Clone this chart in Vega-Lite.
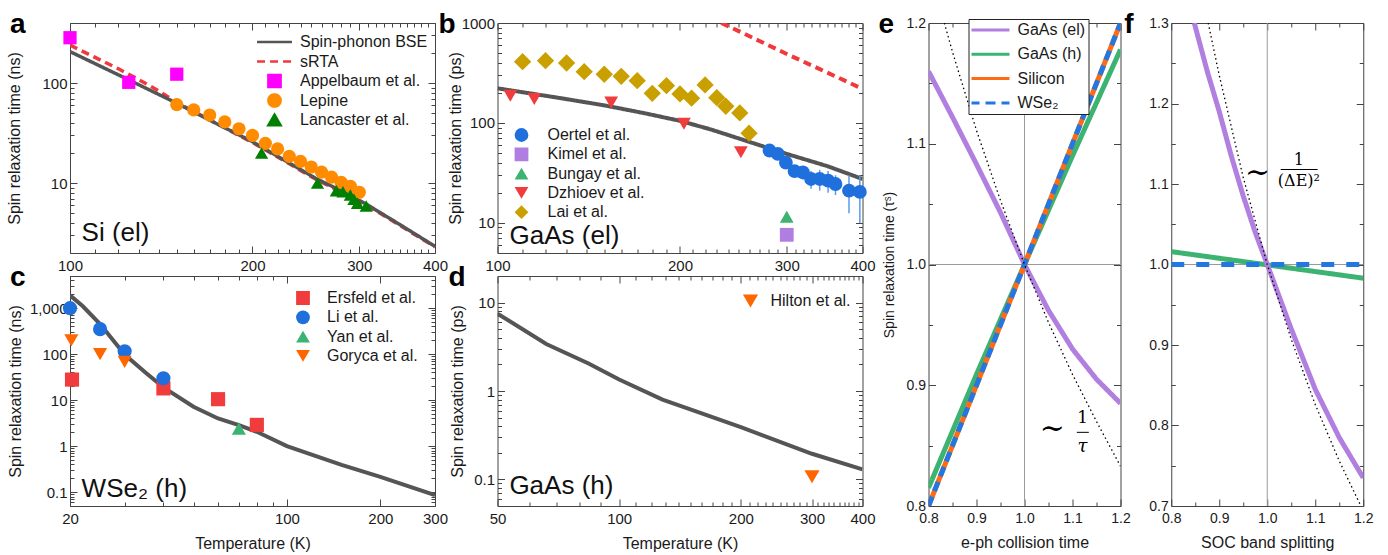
{
"$schema": "https://vega.github.io/schema/vega-lite/v6.json",
"padding": {"left": 6, "top": 10, "right": 0, "bottom": 0},
"config": {
  "font": "Liberation Sans",
  "view": {"stroke": "#444", "strokeWidth": 1},
  "axis": {"labelFont": "Liberation Sans", "titleFont": "Liberation Sans", "labelFontSize": 15, "titleFontSize": 16, "titleFontWeight": "normal", "labelColor": "#1a1a1a", "titleColor": "#1a1a1a", "domain": false, "grid": false, "tickColor": "#444", "tickWidth": 1, "labelFlush": false, "labelOverlap": false, "labelBound": false},
  "legend": {"labelFont": "Liberation Sans", "labelFontSize": 16, "labelColor": "#1a1a1a", "padding": 0},
  "title": {"font": "Liberation Sans", "fontSize": 28, "fontWeight": "bold", "color": "#000", "anchor": "start", "frame": "group", "offset": 0, "baseline": "alphabetic"}
},
"datasets": {
  "a_lines": [
    {"series": "sRTA", "T": 100, "tau": 240}, {"series": "sRTA", "T": 110, "tau": 181}, {"series": "sRTA", "T": 120, "tau": 140}, {"series": "sRTA", "T": 130, "tau": 108}, {"series": "sRTA", "T": 140, "tau": 84}, {"series": "sRTA", "T": 150, "tau": 64}, {"series": "sRTA", "T": 200, "tau": 25.5}, {"series": "sRTA", "T": 254, "tau": 11}, {"series": "sRTA", "T": 309, "tau": 6}, {"series": "sRTA", "T": 400, "tau": 2.3},
    {"series": "Spin-phonon BSE", "T": 100, "tau": 207}, {"series": "Spin-phonon BSE", "T": 125, "tau": 108}, {"series": "Spin-phonon BSE", "T": 150, "tau": 63}, {"series": "Spin-phonon BSE", "T": 175, "tau": 39}, {"series": "Spin-phonon BSE", "T": 200, "tau": 26}, {"series": "Spin-phonon BSE", "T": 225, "tau": 17.2}, {"series": "Spin-phonon BSE", "T": 254, "tau": 11.2}, {"series": "Spin-phonon BSE", "T": 280, "tau": 8.4}, {"series": "Spin-phonon BSE", "T": 309, "tau": 6.1}, {"series": "Spin-phonon BSE", "T": 350, "tau": 3.85}, {"series": "Spin-phonon BSE", "T": 400, "tau": 2.33}
  ],
  "a_points": [
    {"series": "Appelbaum et al.", "T": 100, "tau": 285}, {"series": "Appelbaum et al.", "T": 125, "tau": 102}, {"series": "Appelbaum et al.", "T": 150, "tau": 123},
    {"series": "Lepine", "T": 150, "tau": 61}, {"series": "Lepine", "T": 160, "tau": 54}, {"series": "Lepine", "T": 170, "tau": 48}, {"series": "Lepine", "T": 180, "tau": 41}, {"series": "Lepine", "T": 190, "tau": 35}, {"series": "Lepine", "T": 200, "tau": 30}, {"series": "Lepine", "T": 210, "tau": 25}, {"series": "Lepine", "T": 220, "tau": 22}, {"series": "Lepine", "T": 230, "tau": 18.5}, {"series": "Lepine", "T": 240, "tau": 16.5}, {"series": "Lepine", "T": 250, "tau": 14.5}, {"series": "Lepine", "T": 260, "tau": 12.9}, {"series": "Lepine", "T": 270, "tau": 11.5}, {"series": "Lepine", "T": 280, "tau": 10.2}, {"series": "Lepine", "T": 290, "tau": 9.3}, {"series": "Lepine", "T": 300, "tau": 8.1},
    {"series": "Lancaster et al.", "T": 207, "tau": 20}, {"series": "Lancaster et al.", "T": 256, "tau": 10}, {"series": "Lancaster et al.", "T": 275, "tau": 8.4}, {"series": "Lancaster et al.", "T": 282, "tau": 8.2}, {"series": "Lancaster et al.", "T": 290, "tau": 7.6}, {"series": "Lancaster et al.", "T": 294, "tau": 6.9}, {"series": "Lancaster et al.", "T": 298, "tau": 6.3}, {"series": "Lancaster et al.", "T": 308, "tau": 5.9}
  ],
  "b_lines": [
    {"series": "sRTA", "T": 234, "tau": 1000}, {"series": "sRTA", "T": 250, "tau": 830}, {"series": "sRTA", "T": 300, "tau": 490}, {"series": "sRTA", "T": 350, "tau": 319}, {"series": "sRTA", "T": 400, "tau": 219},
    {"series": "Spin-phonon BSE", "T": 100, "tau": 222}, {"series": "Spin-phonon BSE", "T": 125, "tau": 180}, {"series": "Spin-phonon BSE", "T": 150, "tau": 150}, {"series": "Spin-phonon BSE", "T": 175, "tau": 125}, {"series": "Spin-phonon BSE", "T": 200, "tau": 105}, {"series": "Spin-phonon BSE", "T": 225, "tau": 86}, {"series": "Spin-phonon BSE", "T": 250, "tau": 70}, {"series": "Spin-phonon BSE", "T": 275, "tau": 58}, {"series": "Spin-phonon BSE", "T": 300, "tau": 49}, {"series": "Spin-phonon BSE", "T": 350, "tau": 37}, {"series": "Spin-phonon BSE", "T": 400, "tau": 27.5}
  ],
  "b_err": [
    {"T": 281, "lo": 50, "hi": 56}, {"T": 290, "lo": 46, "hi": 52}, {"T": 299, "lo": 36, "hi": 44}, {"T": 309, "lo": 29, "hi": 37}, {"T": 319, "lo": 27, "hi": 37}, {"T": 329, "lo": 22, "hi": 33}, {"T": 340, "lo": 21, "hi": 34}, {"T": 351, "lo": 20, "hi": 33}, {"T": 361, "lo": 19, "hi": 30}, {"T": 380, "lo": 12.5, "hi": 30}, {"T": 396, "lo": 10, "hi": 30}
  ],
  "b_points": [
    {"series": "Oertel et al.", "T": 281, "tau": 53}, {"series": "Oertel et al.", "T": 290, "tau": 49}, {"series": "Oertel et al.", "T": 299, "tau": 40}, {"series": "Oertel et al.", "T": 309, "tau": 33}, {"series": "Oertel et al.", "T": 319, "tau": 32}, {"series": "Oertel et al.", "T": 329, "tau": 27.5}, {"series": "Oertel et al.", "T": 340, "tau": 27.5}, {"series": "Oertel et al.", "T": 351, "tau": 26.5}, {"series": "Oertel et al.", "T": 361, "tau": 24.5}, {"series": "Oertel et al.", "T": 380, "tau": 21}, {"series": "Oertel et al.", "T": 396, "tau": 20.4},
    {"series": "Kimel et al.", "T": 300, "tau": 7.6},
    {"series": "Bungay et al.", "T": 300, "tau": 11.5},
    {"series": "Dzhioev et al.", "T": 105, "tau": 187}, {"series": "Dzhioev et al.", "T": 115, "tau": 174}, {"series": "Dzhioev et al.", "T": 154, "tau": 160}, {"series": "Dzhioev et al.", "T": 203, "tau": 98}, {"series": "Dzhioev et al.", "T": 252, "tau": 51},
    {"series": "Lai et al.", "T": 110, "tau": 410}, {"series": "Lai et al.", "T": 120, "tau": 420}, {"series": "Lai et al.", "T": 130, "tau": 398}, {"series": "Lai et al.", "T": 139, "tau": 326}, {"series": "Lai et al.", "T": 150, "tau": 307}, {"series": "Lai et al.", "T": 160, "tau": 293}, {"series": "Lai et al.", "T": 170, "tau": 265}, {"series": "Lai et al.", "T": 180, "tau": 198}, {"series": "Lai et al.", "T": 190, "tau": 236}, {"series": "Lai et al.", "T": 200, "tau": 195}, {"series": "Lai et al.", "T": 209, "tau": 177}, {"series": "Lai et al.", "T": 220, "tau": 240}, {"series": "Lai et al.", "T": 230, "tau": 179}, {"series": "Lai et al.", "T": 238, "tau": 147}, {"series": "Lai et al.", "T": 251, "tau": 126}, {"series": "Lai et al.", "T": 260, "tau": 79}
  ],
  "c_line": [
    {"T": 20, "tau": 1900}, {"T": 22, "tau": 1100}, {"T": 25, "tau": 450}, {"T": 30, "tau": 98}, {"T": 35, "tau": 40}, {"T": 40, "tau": 19}, {"T": 50, "tau": 7.2}, {"T": 60, "tau": 4.0}, {"T": 70, "tau": 2.86}, {"T": 80, "tau": 2.05}, {"T": 100, "tau": 1.0}, {"T": 150, "tau": 0.39}, {"T": 200, "tau": 0.215}, {"T": 300, "tau": 0.086}
  ],
  "c_points": [
    {"series": "Ersfeld et al.", "T": 20.3, "tau": 28}, {"series": "Ersfeld et al.", "T": 40, "tau": 18}, {"series": "Ersfeld et al.", "T": 60, "tau": 10.5}, {"series": "Ersfeld et al.", "T": 80, "tau": 2.9},
    {"series": "Li et al.", "T": 20, "tau": 1000}, {"series": "Li et al.", "T": 25, "tau": 350}, {"series": "Li et al.", "T": 30, "tau": 115}, {"series": "Li et al.", "T": 40, "tau": 30},
    {"series": "Yan et al.", "T": 70, "tau": 2.4},
    {"series": "Goryca et al.", "T": 20.2, "tau": 200}, {"series": "Goryca et al.", "T": 25, "tau": 100}, {"series": "Goryca et al.", "T": 30, "tau": 68}
  ],
  "d_line": [
    {"T": 50, "tau": 7.5}, {"T": 66, "tau": 3.4}, {"T": 84, "tau": 2.05}, {"T": 100, "tau": 1.35}, {"T": 128, "tau": 0.8}, {"T": 150, "tau": 0.62}, {"T": 200, "tau": 0.39}, {"T": 300, "tau": 0.195}, {"T": 400, "tau": 0.13}
  ],
  "d_points": [
    {"series": "Hilton et al.", "T": 300, "tau": 0.107}
  ],
  "e_lines": [
    {"series": "GaAs (el)", "x": 0.8, "y": 1.16}, {"series": "GaAs (el)", "x": 0.85, "y": 1.122}, {"series": "GaAs (el)", "x": 0.9, "y": 1.083}, {"series": "GaAs (el)", "x": 0.95, "y": 1.043}, {"series": "GaAs (el)", "x": 1.0, "y": 1.0}, {"series": "GaAs (el)", "x": 1.05, "y": 0.962}, {"series": "GaAs (el)", "x": 1.1, "y": 0.93}, {"series": "GaAs (el)", "x": 1.15, "y": 0.905}, {"series": "GaAs (el)", "x": 1.2, "y": 0.885},
    {"series": "GaAs (h)", "x": 0.8, "y": 0.815}, {"series": "GaAs (h)", "x": 0.9, "y": 0.909}, {"series": "GaAs (h)", "x": 1.0, "y": 1.0}, {"series": "GaAs (h)", "x": 1.1, "y": 1.09}, {"series": "GaAs (h)", "x": 1.2, "y": 1.178},
    {"series": "Silicon", "x": 0.8, "y": 0.8}, {"series": "Silicon", "x": 0.9, "y": 0.9}, {"series": "Silicon", "x": 1.0, "y": 1.0}, {"series": "Silicon", "x": 1.1, "y": 1.1}, {"series": "Silicon", "x": 1.2, "y": 1.2},
    {"series": "WSe₂", "x": 0.8, "y": 0.8}, {"series": "WSe₂", "x": 0.9, "y": 0.9}, {"series": "WSe₂", "x": 1.0, "y": 1.0}, {"series": "WSe₂", "x": 1.1, "y": 1.1}, {"series": "WSe₂", "x": 1.2, "y": 1.2}
  ],
  "e_dot": [
    {"x": 0.833, "y": 1.2}, {"x": 0.85, "y": 1.176}, {"x": 0.9, "y": 1.111}, {"x": 0.95, "y": 1.053}, {"x": 1.0, "y": 1.0}, {"x": 1.05, "y": 0.952}, {"x": 1.1, "y": 0.909}, {"x": 1.15, "y": 0.87}, {"x": 1.2, "y": 0.833}
  ],
  "f_lines": [
    {"series": "GaAs (h)", "x": 0.8, "y": 1.016}, {"series": "GaAs (h)", "x": 1.2, "y": 0.983},
    {"series": "WSe₂", "x": 0.8, "y": 1.0}, {"series": "WSe₂", "x": 1.2, "y": 1.0},
    {"series": "GaAs (el)", "x": 0.848, "y": 1.3}, {"series": "GaAs (el)", "x": 0.875, "y": 1.24}, {"series": "GaAs (el)", "x": 0.9, "y": 1.19}, {"series": "GaAs (el)", "x": 0.925, "y": 1.135}, {"series": "GaAs (el)", "x": 0.95, "y": 1.085}, {"series": "GaAs (el)", "x": 0.975, "y": 1.04}, {"series": "GaAs (el)", "x": 1.0, "y": 1.0}, {"series": "GaAs (el)", "x": 1.05, "y": 0.92}, {"series": "GaAs (el)", "x": 1.1, "y": 0.845}, {"series": "GaAs (el)", "x": 1.15, "y": 0.785}, {"series": "GaAs (el)", "x": 1.2, "y": 0.735}
  ],
  "f_dot": [
    {"x": 0.877, "y": 1.3}, {"x": 0.9, "y": 1.235}, {"x": 0.95, "y": 1.108}, {"x": 1.0, "y": 1.0}, {"x": 1.05, "y": 0.907}, {"x": 1.1, "y": 0.826}, {"x": 1.15, "y": 0.756}, {"x": 1.195, "y": 0.7}
  ]
},
"spacing": 1.5,
"resolve": {"scale": {"fill": "independent", "shape": "independent", "stroke": "independent", "strokeDash": "independent"}},
"hconcat": [
{
 "spacing": -11.5,
 "resolve": {"scale": {"fill": "independent", "shape": "independent", "stroke": "independent", "strokeDash": "independent"}},
 "hconcat": [
 {
  "spacing": 23,
  "bounds": "flush",
  "resolve": {"scale": {"fill": "independent", "shape": "independent", "stroke": "independent", "strokeDash": "independent"}},
  "vconcat": [
  {
   "width": 365, "height": 230,
   "title": {"text": "a", "dx": -60, "dy": 27},
   "resolve": {"axis": {"x": "independent", "y": "independent"}},
   "layer": [
    {"data": {"name": "a_lines"},
     "mark": {"type": "line", "strokeWidth": 3.5, "clip": true},
     "encoding": {
       "x": {"field": "T", "type": "quantitative", "scale": {"type": "log", "domain": [100, 400], "nice": false},
             "axis": {"orient": "bottom", "values": [100,110,120,130,140,150,160,170,180,190,200,210,220,230,240,250,260,270,280,290,300,310,320,330,340,350,360,370,380,390,400], "tickSize": {"condition": {"test": "datum.value % 100 === 0", "value": -7}, "value": -4}, "labelExpr": "datum.value % 100 === 0 ? format(datum.value, 'd') : ''", "title": null, "labelPadding": 12}},
       "y": {"field": "tau", "type": "quantitative", "scale": {"type": "log", "domain": [2, 400], "nice": false},
             "axis": {"orient": "left", "values": [2,3,4,5,6,7,8,9,10,20,30,40,50,60,70,80,90,100,200,300,400], "tickSize": {"condition": {"test": "datum.value === 10 || datum.value === 100", "value": -7}, "value": -4}, "labelExpr": "datum.value === 10 || datum.value === 100 ? format(datum.value, 'd') : ''", "title": "Spin relaxation time (ns)", "labelPadding": 10, "titlePadding": 19}},
       "stroke": {"field": "series", "type": "nominal", "scale": {"domain": ["Spin-phonon BSE", "sRTA", "Appelbaum et al.", "Lepine", "Lancaster et al."], "range": ["#555555", "#f0393c", "#ff00ff", "#ff8c00", "#008000"]},
                  "legend": {"title": null, "orient": "none", "legendX": 186.5, "legendY": 11, "labelOffset": 17.5, "symbolOffset": 10, "rowPadding": 3.5, "clipHeight": 16, "symbolSize": 150, "symbolStrokeWidth": 2.5}},
       "strokeDash": {"field": "series", "type": "nominal", "scale": {"domain": ["Spin-phonon BSE", "sRTA", "Appelbaum et al.", "Lepine", "Lancaster et al."], "range": [[1, 0], [8, 5], [1, 0], [1, 0], [1, 0]]},
                  "legend": {"title": null, "orient": "none", "legendX": 186.5, "legendY": 11, "labelOffset": 17.5, "symbolOffset": 10, "rowPadding": 3.5, "clipHeight": 16, "symbolSize": 150, "symbolStrokeWidth": 2.5}}
     }},
    {"data": {"name": "a_points"},
     "mark": {"type": "point", "filled": true, "opacity": 1, "size": 175},
     "encoding": {
       "x": {"field": "T", "type": "quantitative", "axis": null},
       "y": {"field": "tau", "type": "quantitative", "axis": null},
       "fill": {"field": "series", "type": "nominal", "scale": {"domain": ["Spin-phonon BSE", "sRTA", "Appelbaum et al.", "Lepine", "Lancaster et al."], "range": ["#555555", "#f0393c", "#ff00ff", "#ff8c00", "#008000"]},
                "legend": {"title": null, "orient": "none", "legendX": 186.5, "legendY": 11, "labelOffset": 17.5, "symbolOffset": 10, "rowPadding": 3.5, "clipHeight": 16, "symbolSize": 150, "symbolStrokeWidth": 2.5}},
       "shape": {"field": "series", "type": "nominal", "scale": {"domain": ["Spin-phonon BSE", "sRTA", "Appelbaum et al.", "Lepine", "Lancaster et al."], "range": ["M-2.85,0H2.85", "M-2.85,0H2.85", "square", "circle", "triangle-up"]},
                "legend": {"title": null, "orient": "none", "legendX": 186.5, "legendY": 11, "labelOffset": 17.5, "symbolOffset": 10, "rowPadding": 3.5, "clipHeight": 16, "symbolSize": 150, "symbolStrokeWidth": 2.5}}
     }},
    {"data": {"values": [{}]},
     "mark": {"type": "text", "text": "Si (el)", "align": "left", "baseline": "alphabetic", "fontSize": 26, "color": "#111"},
     "encoding": {
       "x": {"datum": 104.5, "type": "quantitative", "axis": {"orient": "top", "values": [100,110,120,130,140,150,160,170,180,190,200,210,220,230,240,250,260,270,280,290,300,310,320,330,340,350,360,370,380,390,400], "tickSize": {"condition": {"test": "datum.value % 100 === 0", "value": -7}, "value": -4}, "labels": false, "title": null}},
       "y": {"datum": 2.63, "type": "quantitative", "axis": {"orient": "right", "values": [2,3,4,5,6,7,8,9,10,20,30,40,50,60,70,80,90,100,200,300,400], "tickSize": {"condition": {"test": "datum.value === 10 || datum.value === 100", "value": -7}, "value": -4}, "labels": false, "title": null}}
     }}
   ]
  },
  {
   "width": 365, "height": 230,
   "title": {"text": "c", "dx": -60, "dy": 27},
   "resolve": {"axis": {"x": "independent", "y": "independent"}},
   "layer": [
    {"data": {"name": "c_line"},
     "mark": {"type": "line", "strokeWidth": 4, "color": "#555555", "clip": true},
     "encoding": {
       "x": {"field": "T", "type": "quantitative", "scale": {"type": "log", "domain": [20, 300], "nice": false},
             "axis": {"orient": "bottom", "values": [20,30,40,50,60,70,80,90,100,200,300], "tickSize": {"condition": {"test": "indexof([20,100,200,300], datum.value) >= 0", "value": -7}, "value": -4}, "labelExpr": "indexof([20,100,200,300], datum.value) >= 0 ? format(datum.value, 'd') : ''", "title": "Temperature (K)", "labelPadding": 12, "titlePadding": 6}},
       "y": {"field": "tau", "type": "quantitative", "scale": {"type": "log", "domain": [0.05, 5000], "nice": false},
             "axis": {"orient": "left", "values": [0.05,0.06,0.07,0.08,0.09,0.1,0.2,0.3,0.4,0.5,0.6,0.7,0.8,0.9,1,2,3,4,5,6,7,8,9,10,20,30,40,50,60,70,80,90,100,200,300,400,500,600,700,800,900,1000,2000,3000,4000,5000], "tickSize": {"condition": {"test": "indexof([0.1,1,10,100,1000], datum.value) >= 0", "value": -7}, "value": -4}, "labelExpr": "indexof([0.1,1,10,100,1000], datum.value) >= 0 ? format(datum.value, ',') : ''", "title": "Spin relaxation time (ns)", "labelPadding": 10, "titlePadding": 6}}
     }},
    {"data": {"name": "c_points"},
     "mark": {"type": "point", "filled": true, "opacity": 1, "size": 200},
     "encoding": {
       "x": {"field": "T", "type": "quantitative", "axis": null},
       "y": {"field": "tau", "type": "quantitative", "axis": null},
       "fill": {"field": "series", "type": "nominal", "scale": {"domain": ["Ersfeld et al.", "Li et al.", "Yan et al.", "Goryca et al."], "range": ["#f03c3c", "#1f6fdc", "#3cb371", "#ff6600"]},
                "legend": {"title": null, "orient": "none", "legendX": 225, "legendY": 14, "labelOffset": 16, "rowPadding": 3.3, "clipHeight": 16, "symbolSize": 190, "symbolStrokeWidth": 0}},
       "shape": {"field": "series", "type": "nominal", "scale": {"domain": ["Ersfeld et al.", "Li et al.", "Yan et al.", "Goryca et al."], "range": ["square", "circle", "triangle-up", "triangle-down"]},
                "legend": {"title": null, "orient": "none", "legendX": 225, "legendY": 14, "labelOffset": 16, "rowPadding": 3.3, "clipHeight": 16, "symbolSize": 190, "symbolStrokeWidth": 0}}
     }},
    {"data": {"values": [{}]},
     "mark": {"type": "text", "text": "WSe₂ (h)", "align": "left", "baseline": "alphabetic", "fontSize": 26, "color": "#111"},
     "encoding": {
       "x": {"datum": 21.8, "type": "quantitative", "axis": {"orient": "top", "values": [20,30,40,50,60,70,80,90,100,200,300], "tickSize": {"condition": {"test": "indexof([20,100,200,300], datum.value) >= 0", "value": -7}, "value": -4}, "labels": false, "title": null}},
       "y": {"datum": 0.079, "type": "quantitative", "axis": {"orient": "right", "values": [0.05,0.06,0.07,0.08,0.09,0.1,0.2,0.3,0.4,0.5,0.6,0.7,0.8,0.9,1,2,3,4,5,6,7,8,9,10,20,30,40,50,60,70,80,90,100,200,300,400,500,600,700,800,900,1000,2000,3000,4000,5000], "tickSize": {"condition": {"test": "indexof([0.1,1,10,100,1000], datum.value) >= 0", "value": -7}, "value": -4}, "labels": false, "title": null}}
     }}
   ]
  }
  ]
 },
 {
  "spacing": 23,
  "bounds": "flush",
  "resolve": {"scale": {"fill": "independent", "shape": "independent", "stroke": "independent", "strokeDash": "independent"}},
  "vconcat": [
  {
   "width": 365, "height": 230,
   "title": {"text": "b", "dx": -59, "dy": 27},
   "resolve": {"axis": {"x": "independent", "y": "independent"}},
   "layer": [
    {"data": {"name": "b_lines"},
     "mark": {"type": "line", "strokeWidth": 4, "clip": true},
     "encoding": {
       "x": {"field": "T", "type": "quantitative", "scale": {"type": "log", "domain": [100, 400], "nice": false},
             "axis": {"orient": "bottom", "values": [100,110,120,130,140,150,160,170,180,190,200,210,220,230,240,250,260,270,280,290,300,310,320,330,340,350,360,370,380,390,400], "tickSize": {"condition": {"test": "datum.value % 100 === 0", "value": -7}, "value": -4}, "labelExpr": "datum.value % 100 === 0 ? format(datum.value, 'd') : ''", "title": null, "labelPadding": 12}},
       "y": {"field": "tau", "type": "quantitative", "scale": {"type": "log", "domain": [5, 1000], "nice": false},
             "axis": {"orient": "left", "values": [5,6,7,8,9,10,20,30,40,50,60,70,80,90,100,200,300,400,500,600,700,800,900,1000], "tickSize": {"condition": {"test": "indexof([10,100,1000], datum.value) >= 0", "value": -7}, "value": -4}, "labelExpr": "indexof([10,100,1000], datum.value) >= 0 ? format(datum.value, 'd') : ''", "title": "Spin relaxation time (ps)", "labelPadding": 10, "titlePadding": -2}},
       "stroke": {"field": "series", "type": "nominal", "scale": {"domain": ["Spin-phonon BSE", "sRTA"], "range": ["#555555", "#f0393c"]}, "legend": null},
       "strokeDash": {"field": "series", "type": "nominal", "scale": {"domain": ["Spin-phonon BSE", "sRTA"], "range": [[1, 0], [8, 5]]}, "legend": null}
     }},
    {"data": {"name": "b_err"},
     "mark": {"type": "rule", "color": "#5b9be6", "strokeWidth": 1.5},
     "encoding": {
       "x": {"field": "T", "type": "quantitative", "axis": null},
       "y": {"field": "lo", "type": "quantitative", "axis": null},
       "y2": {"field": "hi"}
     }},
    {"data": {"name": "b_points"},
     "transform": [{"filter": "datum.series !== 'Lai et al.'"}],
     "mark": {"type": "point", "filled": true, "opacity": 1, "size": 190},
     "encoding": {
       "x": {"field": "T", "type": "quantitative", "axis": null},
       "y": {"field": "tau", "type": "quantitative", "axis": null},
       "fill": {"field": "series", "type": "nominal", "scale": {"domain": ["Oertel et al.", "Kimel et al.", "Bungay et al.", "Dzhioev et al.", "Lai et al."], "range": ["#1f6fdc", "#b07ee0", "#3cb371", "#f03c3c", "#c9a000"]},
                "legend": {"title": null, "orient": "none", "legendX": 16, "legendY": 104, "labelOffset": 18, "rowPadding": 3.3, "clipHeight": 16, "symbolSize": 190, "symbolStrokeWidth": 0}},
       "shape": {"field": "series", "type": "nominal", "scale": {"domain": ["Oertel et al.", "Kimel et al.", "Bungay et al.", "Dzhioev et al.", "Lai et al."], "range": ["circle", "square", "triangle-up", "triangle-down", "diamond"]},
                "legend": {"title": null, "orient": "none", "legendX": 16, "legendY": 104, "labelOffset": 18, "rowPadding": 3.3, "clipHeight": 16, "symbolSize": 190, "symbolStrokeWidth": 0}}
     }},
    {"data": {"name": "b_points"},
     "transform": [{"filter": "datum.series === 'Lai et al.'"}],
     "mark": {"type": "point", "filled": true, "opacity": 1, "size": 300},
     "encoding": {
       "x": {"field": "T", "type": "quantitative", "axis": null},
       "y": {"field": "tau", "type": "quantitative", "axis": null},
       "fill": {"field": "series", "type": "nominal", "legend": {"title": null, "orient": "none", "legendX": 16, "legendY": 104, "labelOffset": 18, "rowPadding": 3.3, "clipHeight": 16, "symbolSize": 190, "symbolStrokeWidth": 0}},
       "shape": {"field": "series", "type": "nominal", "legend": {"title": null, "orient": "none", "legendX": 16, "legendY": 104, "labelOffset": 18, "rowPadding": 3.3, "clipHeight": 16, "symbolSize": 190, "symbolStrokeWidth": 0}}
     }},
    {"data": {"values": [{}]},
     "mark": {"type": "text", "text": "GaAs (el)", "align": "left", "baseline": "alphabetic", "fontSize": 26, "color": "#111"},
     "encoding": {
       "x": {"datum": 104.7, "type": "quantitative", "axis": {"orient": "top", "values": [100,110,120,130,140,150,160,170,180,190,200,210,220,230,240,250,260,270,280,290,300,310,320,330,340,350,360,370,380,390,400], "tickSize": {"condition": {"test": "datum.value % 100 === 0", "value": -7}, "value": -4}, "labels": false, "title": null}},
       "y": {"datum": 6.2, "type": "quantitative", "axis": {"orient": "right", "values": [5,6,7,8,9,10,20,30,40,50,60,70,80,90,100,200,300,400,500,600,700,800,900,1000], "tickSize": {"condition": {"test": "indexof([10,100,1000], datum.value) >= 0", "value": -7}, "value": -4}, "labels": false, "title": null}}
     }}
   ]
  },
  {
   "width": 365, "height": 230,
   "title": {"text": "d", "dx": -49, "dy": 27},
   "resolve": {"axis": {"x": "independent", "y": "independent"}},
   "layer": [
    {"data": {"name": "d_line"},
     "mark": {"type": "line", "strokeWidth": 4, "color": "#555555", "clip": true},
     "encoding": {
       "x": {"field": "T", "type": "quantitative", "scale": {"type": "log", "domain": [50, 400], "nice": false},
             "axis": {"orient": "bottom", "values": [50,60,70,80,90,100,110,120,130,140,150,160,170,180,190,200,210,220,230,240,250,260,270,280,290,300,310,320,330,340,350,360,370,380,390,400], "tickSize": {"condition": {"test": "indexof([50,100,200,300,400], datum.value) >= 0", "value": -7}, "value": -4}, "labelExpr": "indexof([50,100,200,300,400], datum.value) >= 0 ? format(datum.value, 'd') : ''", "title": "Temperature (K)", "labelPadding": 12, "titlePadding": 6}},
       "y": {"field": "tau", "type": "quantitative", "scale": {"type": "log", "domain": [0.05, 20], "nice": false},
             "axis": {"orient": "left", "values": [0.05,0.06,0.07,0.08,0.09,0.1,0.2,0.3,0.4,0.5,0.6,0.7,0.8,0.9,1,2,3,4,5,6,7,8,9,10,20], "tickSize": {"condition": {"test": "indexof([0.1,1,10], datum.value) >= 0", "value": -7}, "value": -4}, "labelExpr": "indexof([0.1,1,10], datum.value) >= 0 ? format(datum.value, ',') : ''", "title": "Spin relaxation time (ps)", "labelPadding": 10, "titlePadding": 8}}
     }},
    {"data": {"name": "d_points"},
     "mark": {"type": "point", "filled": true, "opacity": 1, "size": 230},
     "encoding": {
       "x": {"field": "T", "type": "quantitative", "axis": null},
       "y": {"field": "tau", "type": "quantitative", "axis": null},
       "fill": {"field": "series", "type": "nominal", "scale": {"domain": ["Hilton et al."], "range": ["#ff6600"]},
                "legend": {"title": null, "orient": "none", "legendX": 245, "legendY": 17, "labelOffset": 12, "clipHeight": 16, "symbolSize": 230, "symbolStrokeWidth": 0}},
       "shape": {"field": "series", "type": "nominal", "scale": {"domain": ["Hilton et al."], "range": ["triangle-down"]},
                "legend": {"title": null, "orient": "none", "legendX": 245, "legendY": 17, "labelOffset": 12, "clipHeight": 16, "symbolSize": 230, "symbolStrokeWidth": 0}}
     }},
    {"data": {"values": [{}]},
     "mark": {"type": "text", "text": "GaAs (h)", "align": "left", "baseline": "alphabetic", "fontSize": 26, "color": "#111"},
     "encoding": {
       "x": {"datum": 53.5, "type": "quantitative", "axis": {"orient": "top", "values": [50,60,70,80,90,100,110,120,130,140,150,160,170,180,190,200,210,220,230,240,250,260,270,280,290,300,310,320,330,340,350,360,370,380,390,400], "tickSize": {"condition": {"test": "indexof([50,100,200,300,400], datum.value) >= 0", "value": -7}, "value": -4}, "labels": false, "title": null}},
       "y": {"datum": 0.069, "type": "quantitative", "axis": {"orient": "right", "values": [0.05,0.06,0.07,0.08,0.09,0.1,0.2,0.3,0.4,0.5,0.6,0.7,0.8,0.9,1,2,3,4,5,6,7,8,9,10,20], "tickSize": {"condition": {"test": "indexof([0.1,1,10], datum.value) >= 0", "value": -7}, "value": -4}, "labels": false, "title": null}}
     }}
   ]
  }
  ]
 }
 ]
},
{
 "spacing": -8.25,
 "resolve": {"scale": {"fill": "independent", "shape": "independent", "stroke": "independent", "strokeDash": "independent"}},
 "hconcat": [
  {
   "width": 192, "height": 483,
   "title": {"text": "e", "dx": -50, "dy": 27},
   "resolve": {"axis": {"x": "independent", "y": "independent"}},
   "layer": [
    {"data": {"values": [{}]},
     "mark": {"type": "rule", "color": "#9a9a9a", "strokeWidth": 1},
     "encoding": {"x": {"datum": 1, "type": "quantitative", "scale": {"domain": [0.8, 1.2], "nice": false, "zero": false}, "axis": null}}},
    {"data": {"values": [{}]},
     "mark": {"type": "rule", "color": "#9a9a9a", "strokeWidth": 1},
     "encoding": {"y": {"datum": 1, "type": "quantitative", "scale": {"domain": [0.8, 1.2], "nice": false, "zero": false}, "axis": null}}},
    {"data": {"name": "e_lines"},
     "mark": {"type": "line", "strokeWidth": 5, "clip": true},
     "encoding": {
       "x": {"field": "x", "type": "quantitative", "axis": {"orient": "top", "values": [0.8,0.85,0.9,0.95,1,1.05,1.1,1.15,1.2], "tickSize": {"condition": {"test": "abs(datum.value*10-round(datum.value*10)) < 0.001", "value": -7}, "value": -4}, "labels": false, "title": null}},
       "y": {"field": "y", "type": "quantitative", "axis": {"orient": "right", "values": [0.8,0.85,0.9,0.95,1,1.05,1.1,1.15,1.2], "tickSize": {"condition": {"test": "abs(datum.value*10-round(datum.value*10)) < 0.001", "value": -7}, "value": -4}, "labels": false, "title": null}},
       "stroke": {"field": "series", "type": "nominal", "scale": {"domain": ["GaAs (el)", "GaAs (h)", "Silicon", "WSe₂"], "range": ["#b07fdf", "#3cb371", "#ff6a14", "#2277e0"]},
                  "legend": {"title": null, "orient": "none", "legendX": 40, "legendY": -4, "padding": 3, "strokeColor": "#222", "fillColor": "#ffffff", "symbolType": "M-3.33,0H3.33", "symbolSize": 144, "symbolStrokeWidth": 3, "symbolOffset": 10, "labelOffset": 20, "rowPadding": 8.3, "clipHeight": 16}},
       "strokeDash": {"field": "series", "type": "nominal", "scale": {"domain": ["GaAs (el)", "GaAs (h)", "Silicon", "WSe₂"], "range": [[1, 0], [1, 0], [1, 0], [10, 6]]},
                  "legend": {"title": null, "orient": "none", "legendX": 40, "legendY": -4, "padding": 3, "strokeColor": "#222", "fillColor": "#ffffff", "symbolType": "M-3.33,0H3.33", "symbolSize": 144, "symbolStrokeWidth": 3, "symbolOffset": 10, "labelOffset": 20, "rowPadding": 8.3, "clipHeight": 16}}
     }},
    {"data": {"name": "e_dot"},
     "mark": {"type": "line", "color": "#000", "strokeWidth": 1.3, "strokeDash": [1.5, 3], "clip": true},
     "encoding": {
       "x": {"field": "x", "type": "quantitative", "axis": {"orient": "bottom", "values": [0.8,0.85,0.9,0.95,1,1.05,1.1,1.15,1.2], "tickSize": {"condition": {"test": "abs(datum.value*10-round(datum.value*10)) < 0.001", "value": -7}, "value": -4}, "labelExpr": "abs(datum.value*10-round(datum.value*10)) < 0.001 ? format(datum.value, '.1f') : ''", "labelFontSize": 14, "title": "e-ph collision time", "labelPadding": 12, "titlePadding": 6}},
       "y": {"field": "y", "type": "quantitative", "axis": {"orient": "left", "values": [0.8,0.85,0.9,0.95,1,1.05,1.1,1.15,1.2], "tickSize": {"condition": {"test": "abs(datum.value*10-round(datum.value*10)) < 0.001", "value": -7}, "value": -4}, "labelExpr": "abs(datum.value*10-round(datum.value*10)) < 0.001 ? format(datum.value, '.1f') : ''", "labelFontSize": 14, "title": "Spin relaxation time (τˢ)", "titleFontSize": 14, "labelPadding": 10, "titlePadding": 10}}
     }},
    {"data": {"values": [{}]},
     "mark": {"type": "text", "text": "∼", "align": "center", "baseline": "middle", "fontSize": 30, "font": "DejaVu Serif", "color": "#000"},
     "encoding": {"x": {"datum": 1.058, "type": "quantitative", "axis": null}, "y": {"datum": 0.864, "type": "quantitative", "axis": null}}},
    {"data": {"values": [{}]},
     "mark": {"type": "text", "text": "1", "align": "center", "baseline": "middle", "fontSize": 17, "font": "DejaVu Serif", "color": "#000"},
     "encoding": {"x": {"datum": 1.121, "type": "quantitative", "axis": null}, "y": {"datum": 0.873, "type": "quantitative", "axis": null}}},
    {"data": {"values": [{}]},
     "mark": {"type": "rule", "color": "#000", "strokeWidth": 1},
     "encoding": {"x": {"datum": 1.109, "type": "quantitative", "axis": null}, "x2": {"datum": 1.134}, "y": {"datum": 0.861, "type": "quantitative", "axis": null}}},
    {"data": {"values": [{}]},
     "mark": {"type": "text", "text": "τ", "align": "center", "baseline": "middle", "fontSize": 18, "font": "DejaVu Serif", "fontStyle": "italic", "color": "#000"},
     "encoding": {"x": {"datum": 1.121, "type": "quantitative", "axis": null}, "y": {"datum": 0.849, "type": "quantitative", "axis": null}}}
   ]
  },
  {
   "width": 192, "height": 483,
   "title": {"text": "f", "dx": -47, "dy": 27},
   "resolve": {"axis": {"x": "independent", "y": "independent"}},
   "layer": [
    {"data": {"values": [{}]},
     "mark": {"type": "rule", "color": "#9a9a9a", "strokeWidth": 1},
     "encoding": {"x": {"datum": 1, "type": "quantitative", "scale": {"domain": [0.8, 1.2], "nice": false, "zero": false}, "axis": null}}},
    {"data": {"values": [{}]},
     "mark": {"type": "rule", "color": "#9a9a9a", "strokeWidth": 1},
     "encoding": {"y": {"datum": 1, "type": "quantitative", "scale": {"domain": [0.7, 1.3], "nice": false, "zero": false}, "axis": null}}},
    {"data": {"name": "f_lines"},
     "mark": {"type": "line", "strokeWidth": 5, "clip": true},
     "encoding": {
       "x": {"field": "x", "type": "quantitative", "axis": {"orient": "top", "values": [0.8,0.85,0.9,0.95,1,1.05,1.1,1.15,1.2], "tickSize": {"condition": {"test": "abs(datum.value*10-round(datum.value*10)) < 0.001", "value": -7}, "value": -4}, "labels": false, "title": null}},
       "y": {"field": "y", "type": "quantitative", "axis": {"orient": "right", "values": [0.7,0.75,0.8,0.85,0.9,0.95,1,1.05,1.1,1.15,1.2,1.25,1.3], "tickSize": {"condition": {"test": "abs(datum.value*10-round(datum.value*10)) < 0.001", "value": -7}, "value": -4}, "labels": false, "title": null}},
       "stroke": {"field": "series", "type": "nominal", "scale": {"domain": ["GaAs (el)", "GaAs (h)", "WSe₂"], "range": ["#b07fdf", "#3cb371", "#2277e0"]}, "legend": null},
       "strokeDash": {"field": "series", "type": "nominal", "scale": {"domain": ["GaAs (el)", "GaAs (h)", "WSe₂"], "range": [[1, 0], [1, 0], [13, 12]]}, "legend": null}
     }},
    {"data": {"name": "f_dot"},
     "mark": {"type": "line", "color": "#000", "strokeWidth": 1.3, "strokeDash": [1.5, 3], "clip": true},
     "encoding": {
       "x": {"field": "x", "type": "quantitative", "axis": {"orient": "bottom", "values": [0.8,0.85,0.9,0.95,1,1.05,1.1,1.15,1.2], "tickSize": {"condition": {"test": "abs(datum.value*10-round(datum.value*10)) < 0.001", "value": -7}, "value": -4}, "labelExpr": "abs(datum.value*10-round(datum.value*10)) < 0.001 ? format(datum.value, '.1f') : ''", "labelFontSize": 14, "title": "SOC band splitting", "labelPadding": 12, "titlePadding": 6}},
       "y": {"field": "y", "type": "quantitative", "axis": {"orient": "left", "values": [0.7,0.75,0.8,0.85,0.9,0.95,1,1.05,1.1,1.15,1.2,1.25,1.3], "tickSize": {"condition": {"test": "abs(datum.value*10-round(datum.value*10)) < 0.001", "value": -7}, "value": -4}, "labelExpr": "abs(datum.value*10-round(datum.value*10)) < 0.001 ? format(datum.value, '.1f') : ''", "labelFontSize": 14, "title": null, "labelPadding": 10}}
     }},
    {"data": {"values": [{}]},
     "mark": {"type": "text", "text": "∼", "align": "center", "baseline": "middle", "fontSize": 30, "font": "DejaVu Serif", "color": "#000"},
     "encoding": {"x": {"datum": 0.98, "type": "quantitative", "axis": null}, "y": {"datum": 1.114, "type": "quantitative", "axis": null}}},
    {"data": {"values": [{}]},
     "mark": {"type": "text", "text": "1", "align": "center", "baseline": "middle", "fontSize": 16, "font": "DejaVu Serif", "color": "#000"},
     "encoding": {"x": {"datum": 1.066, "type": "quantitative", "axis": null}, "y": {"datum": 1.13, "type": "quantitative", "axis": null}}},
    {"data": {"values": [{}]},
     "mark": {"type": "rule", "color": "#000", "strokeWidth": 1},
     "encoding": {"x": {"datum": 1.028, "type": "quantitative", "axis": null}, "x2": {"datum": 1.105}, "y": {"datum": 1.118, "type": "quantitative", "axis": null}}},
    {"data": {"values": [{}]},
     "mark": {"type": "text", "text": "(ΔE)²", "align": "center", "baseline": "middle", "fontSize": 16, "font": "DejaVu Serif", "color": "#000"},
     "encoding": {"x": {"datum": 1.066, "type": "quantitative", "axis": null}, "y": {"datum": 1.104, "type": "quantitative", "axis": null}}}
   ]
  }
 ]
}
]
}
